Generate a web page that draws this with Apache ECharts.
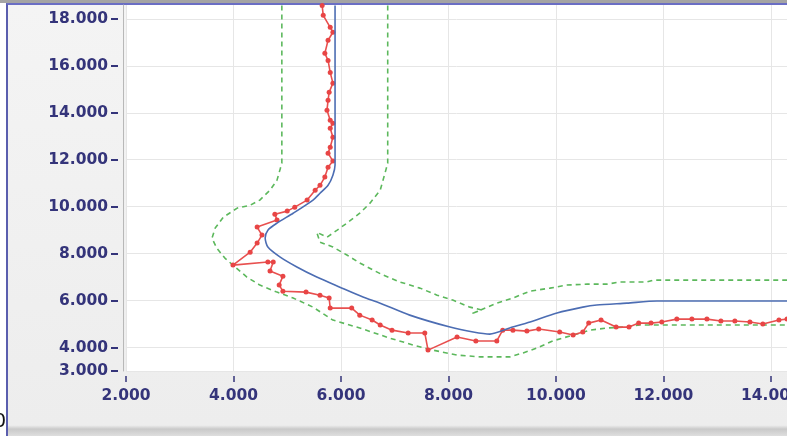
<!DOCTYPE html>
<html><head><meta charset="utf-8">
<script src="https://cdn.jsdelivr.net/npm/echarts@6/dist/echarts.min.js"></script>
<style>
html,body{margin:0;padding:0;width:787px;height:436px;overflow:hidden;background:#fff;}
#topstrip{position:absolute;left:0;top:0;width:787px;height:3px;background:#a4a4a4;}
#frame{position:absolute;left:6px;top:3px;width:781px;height:433px;border-left:2px solid #5a5eae;border-top:2px solid #6a6ec4;box-sizing:border-box;
background:linear-gradient(to bottom,#f4f4f4 0%,#ededed 97.5%,#c9c9c9 98.4%,#dedede 100%);}
#chart{position:absolute;left:0;top:0;width:787px;height:436px;}
</style></head>
<body>
<div id="topstrip"></div>
<div id="frame"></div>
<div id="chart"></div>
<script>
const xTicks = [2, 4, 6, 8, 10, 12, 14];
const yTicks = [3, 4, 6, 8, 10, 12, 14, 16, 18];

const measuredX = [5.65,5.67,5.80,5.85,5.76,5.70,5.76,5.80,5.85,5.78,5.76,5.74,5.80,5.85,5.80,5.85,5.80,5.76,5.85,5.76,5.70,5.61,5.52,5.37,5.14,5.00,4.77,4.81,4.44,4.53,4.44,4.31,3.99,4.64,4.74,4.68,4.92,4.85,4.92,5.35,5.61,5.78,5.80,6.20,6.35,6.58,6.73,6.95,7.25,7.56,7.62,8.16,8.51,8.90,9.01,9.20,9.46,9.68,10.07,10.32,10.50,10.61,10.84,11.12,11.36,11.54,11.77,11.97,12.25,12.53,12.81,13.07,13.33,13.61,13.85,14.15,14.30];
const measuredY = [18.57,18.15,17.64,17.43,17.09,16.53,16.23,15.72,15.26,14.87,14.53,14.11,13.68,13.55,13.34,12.96,12.53,12.28,11.94,11.68,11.26,10.91,10.70,10.28,9.98,9.81,9.68,9.43,9.13,8.79,8.45,8.06,7.51,7.64,7.64,7.26,7.04,6.66,6.40,6.36,6.23,6.11,5.68,5.68,5.38,5.17,4.96,4.74,4.62,4.62,3.89,4.45,4.28,4.28,4.74,4.74,4.70,4.79,4.66,4.53,4.66,5.04,5.17,4.87,4.87,5.04,5.04,5.09,5.21,5.21,5.21,5.13,5.13,5.09,5.00,5.17,5.21];

const modelX = [5.89,5.89,5.85,5.76,5.61,5.48,5.11,4.81,4.64,4.59,4.64,4.87,5.18,5.55,5.98,6.41,6.73,7.28,8.03,8.46,8.77,9.14,9.52,10.02,10.50,10.76,11.32,11.88,14.30];
const modelY = [18.57,11.77,11.34,10.91,10.57,10.28,9.72,9.30,9.00,8.66,8.28,7.85,7.43,7.00,6.57,6.15,5.89,5.38,4.87,4.66,4.57,4.83,5.09,5.47,5.72,5.81,5.89,5.98,5.98];

const lowerX = [4.90,4.90,4.81,4.68,4.49,4.31,4.07,3.81,3.66,3.60,3.69,3.84,4.03,4.25,4.49,4.81,5.11,5.48,5.85,6.35,6.91,7.34,7.71,8.16,8.59,9.14,9.39,9.65,9.94,10.32,10.63,10.95,11.25,11.56,14.30];
const lowerY = [18.57,11.85,11.13,10.70,10.28,10.06,9.94,9.55,9.09,8.66,8.23,7.81,7.43,7.00,6.66,6.36,6.11,5.72,5.17,4.83,4.40,4.11,3.89,3.68,3.60,3.60,3.77,3.98,4.28,4.53,4.74,4.83,4.87,4.96,4.96];

const upperX = [6.87,6.87,6.82,6.73,6.54,6.35,6.11,5.93,5.74,5.55,5.61,5.85,6.11,6.35,6.60,6.78,7.10,7.47,7.79,8.08,8.40,8.62,8.42,8.90,9.20,9.52,9.89,10.20,10.58,10.95,11.19,11.69,11.81,14.30];
const upperY = [18.57,11.85,11.43,10.70,10.15,9.72,9.30,9.00,8.70,8.91,8.49,8.28,7.94,7.60,7.30,7.09,6.79,6.53,6.23,6.02,5.72,5.60,5.43,5.89,6.11,6.40,6.53,6.66,6.70,6.70,6.79,6.79,6.87,6.87];

function zip(a, b) { const n = Math.min(a.length, b.length); const r = []; for (let i = 0; i < n; i++) r.push([a[i], b[i]]); return r; }

const labelColor = '#34347a';
const fmt = v => Number(v).toFixed(3);
const chart = echarts.init(document.getElementById('chart'), null, {renderer: 'canvas'});
const greenStyle = {color: '#5cb85c', width: 1.6, type: [5, 4]};
const labelFont = {color: labelColor, fontSize: 15.5, fontWeight: 'bold', fontFamily: 'DejaVu Sans'};
chart.setOption({
  animation: false,
  backgroundColor: 'transparent',
  grid: {left: 126, right: 0, top: 5, bottom: 65, show: true, backgroundColor: '#ffffff', borderWidth: 0, containLabel: false, outerBoundsMode: 'none'},
  xAxis: {
    type: 'value', min: 2, max: 14.3, offset: 5,
    axisLine: {show: false},
    axisTick: {show: true, length: 6, customValues: xTicks, lineStyle: {color: labelColor, width: 1.5}},
    axisLabel: Object.assign({customValues: xTicks, formatter: fmt, margin: 12}, labelFont),
    splitLine: {show: true, lineStyle: {color: '#e6e6e6', width: 1}}
  },
  yAxis: [{
    type: 'value', min: 3, max: 18.59, offset: 8,
    axisLine: {show: false},
    axisTick: {show: true, length: 7, customValues: yTicks, lineStyle: {color: labelColor, width: 2}},
    axisLabel: Object.assign({customValues: yTicks, formatter: fmt, margin: 10}, labelFont),
    splitLine: {show: true, lineStyle: {color: '#e6e6e6', width: 1}}
  }, {
    type: 'value', min: 3, max: 18.59, position: 'left', offset: 3,
    axisLine: {show: true, onZero: false, lineStyle: {color: '#b8b8b8', width: 1}},
    axisTick: {show: false}, axisLabel: {show: false}, splitLine: {show: false}
  }],
  graphic: [{type: 'text', left: -6, top: 413, style: {text: '0', font: '19px DejaVu Sans', fill: '#111'}}],
  series: [
    {type: 'line', name: 'lower', data: zip(lowerX, lowerY), showSymbol: false, lineStyle: greenStyle, z: 2},
    {type: 'line', name: 'upper', data: zip(upperX, upperY), showSymbol: false, lineStyle: greenStyle, z: 2},
    {type: 'line', name: 'measured', data: zip(measuredX, measuredY), symbol: 'circle', symbolSize: 5, showSymbol: true, showAllSymbol: true,
      lineStyle: {color: '#e8504f', width: 1.6}, itemStyle: {color: '#e84545'}, z: 3},
    {type: 'line', name: 'model', data: zip(modelX, modelY), showSymbol: false, smooth: 0.25,
      lineStyle: {color: '#4c6db3', width: 1.6}, z: 4}
  ]
});
</script>
</body></html>
